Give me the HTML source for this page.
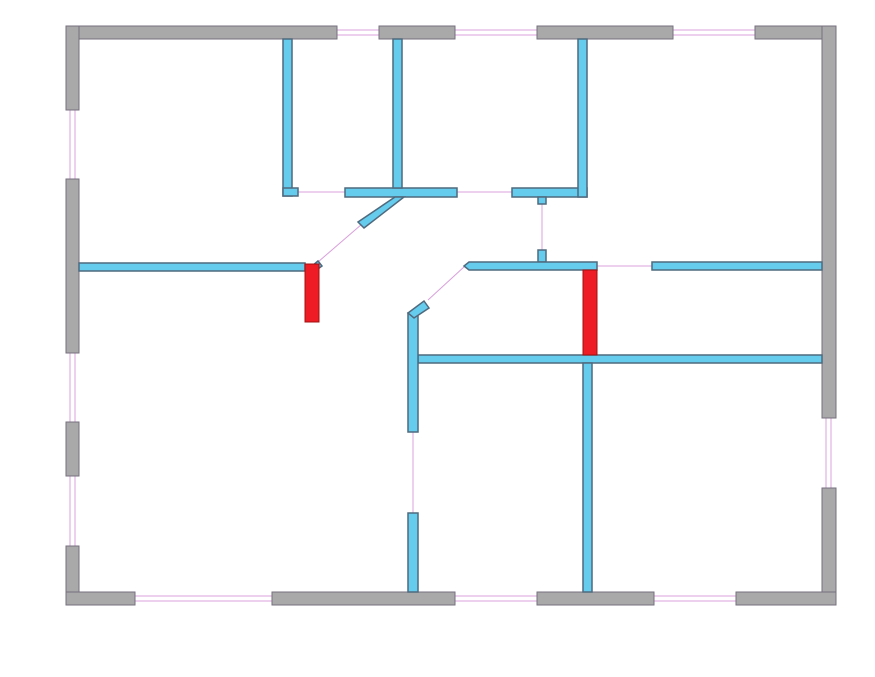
<!DOCTYPE html>
<html><head><style>body{margin:0;background:#fff}svg{display:block}</style></head><body>
<svg width="875" height="677" viewBox="0 0 875 677" xmlns="http://www.w3.org/2000/svg">
<g stroke="#d9a0dc" stroke-width="1" fill="none">
<!-- windows double lines -->
<line x1="337" y1="30" x2="379" y2="30"/><line x1="337" y1="35" x2="379" y2="35"/>
<line x1="455" y1="30" x2="537" y2="30"/><line x1="455" y1="35" x2="537" y2="35"/>
<line x1="673" y1="30" x2="755" y2="30"/><line x1="673" y1="35" x2="755" y2="35"/>
<line x1="70" y1="110" x2="70" y2="179"/><line x1="75" y1="110" x2="75" y2="179"/>
<line x1="70" y1="353" x2="70" y2="422"/><line x1="75" y1="353" x2="75" y2="422"/>
<line x1="70" y1="476" x2="70" y2="546"/><line x1="75" y1="476" x2="75" y2="546"/>
<line x1="826" y1="418" x2="826" y2="488"/><line x1="831" y1="418" x2="831" y2="488"/>
<line x1="135" y1="596" x2="272" y2="596"/><line x1="135" y1="601" x2="272" y2="601"/>
<line x1="455" y1="596" x2="537" y2="596"/><line x1="455" y1="601" x2="537" y2="601"/>
<line x1="654" y1="596" x2="736" y2="596"/><line x1="654" y1="601" x2="736" y2="601"/>
<!-- door lines -->
<line x1="298" y1="192" x2="345" y2="192"/>
<line x1="457" y1="192" x2="512" y2="192"/>
<line x1="542" y1="203" x2="542" y2="250"/>
<line x1="597" y1="266" x2="652" y2="266"/>
<line x1="362" y1="224" x2="318" y2="262"/>
<line x1="428" y1="300" x2="465" y2="266"/>
<line x1="413" y1="432" x2="413" y2="513"/>
</g>
<g fill="#a9a9a9" stroke="#76707e" stroke-width="1">
<rect x="66" y="26" width="271" height="13"/>
<rect x="379" y="26" width="76" height="13"/>
<rect x="537" y="26" width="136" height="13"/>
<rect x="755" y="26" width="81" height="13"/>
<rect x="66" y="26" width="13" height="84"/>
<rect x="66" y="179" width="13" height="174"/>
<rect x="66" y="422" width="13" height="54"/>
<rect x="66" y="546" width="13" height="59"/>
<rect x="822" y="26" width="14" height="392"/>
<rect x="822" y="488" width="14" height="117"/>
<rect x="66" y="592" width="69" height="13"/>
<rect x="272" y="592" width="183" height="13"/>
<rect x="537" y="592" width="117" height="13"/>
<rect x="736" y="592" width="100" height="13"/>
</g>
<g fill="#66ccee" stroke="#4f6a7e" stroke-width="1.5">
<rect x="283" y="39" width="9" height="157"/>
<rect x="283" y="188" width="15" height="8"/>
<rect x="345" y="188" width="112" height="9"/>
<rect x="393" y="39" width="9" height="149"/>
<polygon points="395,197 404,197 364,228 358,222"/>
<rect x="79" y="263" width="226" height="8"/>
<polygon points="312,266 318,261 322,266 318,269"/>
<rect x="512" y="188" width="75" height="9"/>
<rect x="578" y="39" width="9" height="158"/>
<rect x="538" y="197" width="8" height="7"/>
<rect x="538" y="250" width="8" height="12"/>
<polygon points="469,262 597,262 597,270 469,270 464,266"/>
<rect x="652" y="262" width="170" height="8"/>
<rect x="418" y="355" width="404" height="8"/>
<rect x="583" y="363" width="9" height="229"/>
<rect x="408" y="313" width="10" height="119"/>
<polygon points="408,313 424,301 429,308 414,318"/>
<rect x="408" y="513" width="10" height="79"/>
</g>
<g fill="#ee1c24" stroke="#a01010" stroke-width="1">
<rect x="305" y="264" width="14" height="58"/>
<rect x="583" y="270" width="14" height="85"/>
</g>
</svg>
</body></html>
